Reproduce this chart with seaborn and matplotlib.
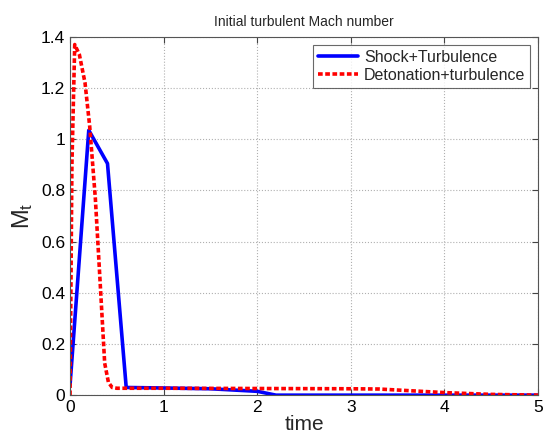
import matplotlib
matplotlib.use("Agg")
import matplotlib.pyplot as plt
import seaborn as sns
import pandas as pd

shock_t = [0.0, 0.2, 0.4, 0.6, 1.0, 1.5, 2.0, 2.2, 3.0, 4.0, 5.0]
shock_m = [0.04, 1.035, 0.905, 0.03, 0.028, 0.025, 0.015, 0.0, 0.0, 0.0, 0.0]

det_t = [0.0, 0.02, 0.05, 0.1, 0.16, 0.21, 0.27, 0.32, 0.37, 0.41, 0.45, 0.5, 1.0, 2.0, 3.0, 3.3, 3.6, 4.0, 4.5, 5.0]
det_m = [0.0, 0.9, 1.37, 1.33, 1.22, 1.05, 0.77, 0.45, 0.125, 0.05, 0.03, 0.027, 0.027, 0.026, 0.025, 0.024, 0.018, 0.01, 0.003, 0.0]

labels = ["Shock+Turbulence", "Detonation+turbulence"]

df = pd.concat([
    pd.DataFrame({"time": shock_t, "Mt": shock_m, "case": labels[0]}),
    pd.DataFrame({"time": det_t, "Mt": det_m, "case": labels[1]}),
])

sns.set_style("white")
plt.rcParams['font.family'] = ['Liberation Sans', 'DejaVu Sans']

fig = plt.figure(figsize=(5.43, 4.44), dpi=100)
ax = fig.add_axes([0.129, 0.110, 0.862, 0.807])

sns.lineplot(data=df, x="time", y="Mt", hue="case", style="case",
             palette={labels[0]: "#0000ff", labels[1]: "#ff0000"},
             dashes={labels[0]: "", labels[1]: (1.3, 0.7)},
             linewidth=2.6, ax=ax, sort=False, estimator=None)

ax.set_xlim(0, 5)
ax.set_ylim(0, 1.4)
ax.set_xticks([0, 1, 2, 3, 4, 5])
ax.set_yticks([0, 0.2, 0.4, 0.6, 0.8, 1.0, 1.2, 1.4])
ax.set_yticklabels(["0", "0.2", "0.4", "0.6", "0.8", "1", "1.2", "1.4"])
ax.tick_params(axis="both", labelsize=12.5, direction="in", length=4, width=0.8,
               colors="#444444", labelcolor="black",
               bottom=True, left=True, top=True, right=True)
ax.grid(True, linestyle=":", color="#b0b0b0", linewidth=0.8)
for s in ax.spines.values():
    s.set_color("#555555")
    s.set_linewidth(0.8)

ax.set_title("Initial turbulent Mach number", fontsize=10, pad=8)
ax.set_xlabel("time", fontsize=15, labelpad=0)
ax.set_ylabel(r"$\mathregular{M_t}$", fontsize=17, labelpad=4)

leg = ax.legend(loc="upper right", fontsize=11.5, frameon=True, fancybox=False,
                edgecolor="#444444", handlelength=2.5, borderaxespad=0.5,
                borderpad=0.3, labelspacing=0.2, handletextpad=0.4)
leg.get_frame().set_linewidth(0.8)

fig.savefig("out.png", dpi=100)
